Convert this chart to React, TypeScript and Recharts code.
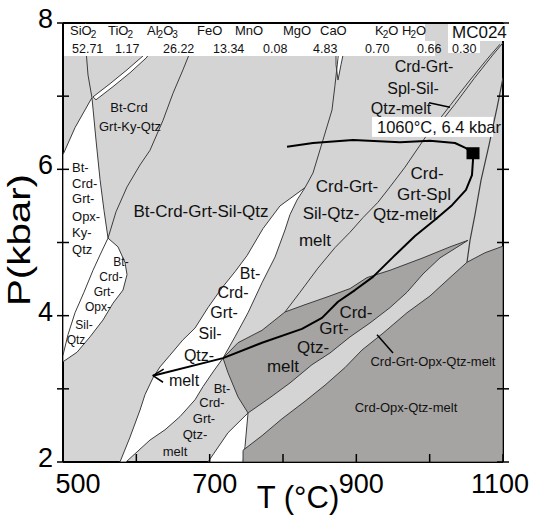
import { ScatterChart, Scatter, XAxis, YAxis, CartesianGrid } from "recharts";

// axis ticks
const T_TICKS = [500, 600, 700, 800, 900, 1000, 1100];
const P_TICKS = [2, 3, 4, 5, 6, 7, 8];
const T_LABELED = [500, 700, 900, 1100];
const P_LABELED = [2, 4, 6, 8];

// composition of sample MC024 (wt%)
const OXIDES = ["SiO2", "TiO2", "Al2O3", "FeO", "MnO", "MgO", "CaO", "K2O", "H2O"];
const OXIDE_VALUES = ["52.71", "1.17", "26.22", "13.34", "0.08", "4.83", "0.70", "0.66", "0.30"];
const SAMPLE = "MC024";

// field outlines, [T (°C), P (kbar)]
const whiteKyOpx = [
  [500, 6.2], [516.4, 6.57], [539.5, 6.98], [545, 6.4], [550.5, 5.86], [555.9, 5.44],
  [561.4, 5.06], [575, 4.94], [584.5, 4.73], [587.3, 4.56], [581.8, 4.35], [568.2, 4.17],
  [554.5, 3.94], [536.8, 3.71], [519.1, 3.5], [500, 3.37],
];
const whiteSliverTop = [
  [540.9, 6.99], [564.1, 7.17], [587.3, 7.36], [609.1, 7.55], [618.6, 7.66],
  [624.1, 7.66], [613.2, 7.52], [591.4, 7.32], [568.2, 7.13], [545, 6.95],
];
const whiteSliverSil = [[872.3, 7.63], [883.2, 7.63], [879.1, 7.43], [875, 7.22], [872.3, 7.43]];
const whiteMeltBand = [
  [830, 5.75], [812.3, 5.62], [795.9, 5.5], [772.7, 5.19], [750.9, 4.82], [734.5, 4.6],
  [716.8, 4.38], [697.7, 4.11], [680, 3.83], [663.6, 3.67], [645.9, 3.46], [632.3, 3.3],
  [622.7, 3.15], [611.8, 2.92], [605, 2.71], [591.4, 2.34], [577.7, 2.0], [585.9, 2.0],
  [618.6, 2.3], [639.1, 2.44], [659.5, 2.62], [680, 2.85], [690.9, 3.03], [704.5, 3.23],
  [718.2, 3.42], [734.5, 3.71], [752.3, 4.04], [771.4, 4.45], [789.1, 4.8], [802.7, 5.17],
  [809.5, 5.38], [819.1, 5.58],
];
const whiteSliverLow = [[752.3, 2.67], [725, 2.4], [697.7, 2.0], [745.5, 2.0], [748.2, 2.21]];
const darkCrdGrtQtz = [
  [718.2, 3.42], [738.6, 3.63], [771.4, 3.8], [802.7, 4.05], [830, 4.15], [861.4, 4.26],
  [891.4, 4.37], [914.5, 4.52], [945.9, 4.62], [990.9, 4.79], [1027.7, 4.94], [1052.3, 5.03],
  [1014.1, 4.79], [990.9, 4.57], [969.1, 4.32], [945.9, 4.11], [918.6, 3.9], [891.4, 3.71],
  [864.1, 3.49], [839.5, 3.33], [809.5, 3.08], [782.3, 2.88], [752.3, 2.67], [738.6, 2.89],
  [725, 3.22],
];
const darkCrdOpxQtz = [
  [745.5, 2.0], [745.5, 2.16], [771.4, 2.36], [798.6, 2.59], [830, 2.83], [857.3, 3.05],
  [884.5, 3.29], [907.7, 3.53], [936.4, 3.76], [969.1, 4.04], [1000.5, 4.27], [1027.7, 4.52],
  [1050.9, 4.73], [1075.5, 4.86], [1100, 4.95], [1100, 2.0],
];

// reaction lines
const lineTopLeft = [[531, 8.0], [531.4, 7.63], [534.1, 7.29], [539.5, 6.98]];
const lineKyOpx = [[561.4, 5.06], [550.5, 4.83], [540.9, 4.62], [528.6, 4.32], [516.4, 4.04], [506.8, 3.74], [500, 3.46]];
const lineKySil = [
  [561.4, 5.06], [572.3, 5.42], [587.3, 5.76], [605, 6.06], [618.6, 6.26], [636.4, 6.67],
  [650, 7.04], [663.6, 7.36], [680, 7.77],
];
const lineSilMelt = [[877.7, 7.9], [875, 7.52], [870.9, 7.15], [866.8, 6.81], [854.5, 6.4], [840.9, 5.95], [830, 5.75]];
const lineSpl = [
  [802.7, 4.05], [823.2, 4.32], [847.7, 4.65], [870.9, 4.93], [891.4, 5.14], [909.1, 5.34],
  [929.5, 5.55], [945.9, 5.76], [966.4, 6.03], [993.6, 6.43], [1027.7, 6.87], [1055, 7.22],
  [1079.5, 7.52], [1095.9, 7.71],
];
const lineSplTwin = [[1000.5, 6.46], [1034.5, 6.89], [1060.5, 7.24], [1085, 7.55], [1100, 7.73]];
const lineRight = [[1100, 7.25], [1091.8, 6.84], [1080.9, 6.33], [1070, 5.85], [1061.8, 5.38], [1055, 5.03], [1050.9, 4.73]];
const pointerSpl = [[999.1, 6.91], [1027.7, 6.85]];
const pointerOpx = [[928.2, 3.74], [950, 3.49]];

// P-T path
const ptPath = [
  [805.5, 6.31], [840.9, 6.36], [895.5, 6.4], [959.5, 6.37], [1000.5, 6.39], [1034.5, 6.36],
  [1049.5, 6.29], [1059.1, 6.22], [1059.1, 6.13], [1057.7, 5.92], [1049.5, 5.72], [1030.5, 5.51],
  [1007.3, 5.31], [980, 5.09], [950, 4.8], [922.7, 4.53], [898.2, 4.35], [875, 4.19],
  [853.2, 3.97], [825.9, 3.82], [771.4, 3.63], [718.2, 3.42], [622.7, 3.18],
];
const arrowHead = [[637.3, 3.27], [622.7, 3.18], [636.4, 3.09]];
const peak = [[1059.1, 6.22]];

// field labels
const labelsBig = [
  { t: 688.2, p: 5.42, text: "Bt-Crd-Grt-Sil-Qtz" },
  { t: 887.3, p: 5.76, text: "Crd-Grt-" },
  { t: 865.5, p: 5.4, text: "Sil-Qtz-" },
  { t: 843.6, p: 5.03, text: "melt" },
  { t: 996.4, p: 5.94, text: "Crd-" },
  { t: 992.3, p: 5.66, text: "Grt-Spl" },
  { t: 966.4, p: 5.38, text: "Qtz-melt" },
  { t: 899.5, p: 4.05, text: "Crd-" },
  { t: 869.5, p: 3.82, text: "Grt-" },
  { t: 840.9, p: 3.56, text: "Qtz-" },
  { t: 800, p: 3.31, text: "melt" },
];
const labelsMid = [
  { t: 992.3, p: 7.4, text: "Crd-Grt-" },
  { t: 977.3, p: 7.11, text: "Spl-Sil-" },
  { t: 960.9, p: 6.83, text: "Qtz-melt" },
  { t: 755, p: 4.58, text: "Bt-" },
  { t: 731.8, p: 4.31, text: "Crd-" },
  { t: 719.5, p: 4.04, text: "Grt-" },
  { t: 700.5, p: 3.76, text: "Sil-" },
  { t: 685.5, p: 3.46, text: "Qtz-" },
  { t: 665, p: 3.12, text: "melt" },
];
const labelsSmall = [
  { t: 590, p: 6.85, text: "Bt-Crd" },
  { t: 591.4, p: 6.59, text: "Grt-Ky-Qtz" },
  { t: 1004.5, p: 3.37, text: "Crd-Grt-Opx-Qtz-melt" },
  { t: 967.7, p: 2.74, text: "Crd-Opx-Qtz-melt" },
  { t: 716.8, p: 3.01, text: "Bt-" },
  { t: 703.2, p: 2.81, text: "Crd-" },
  { t: 692.3, p: 2.6, text: "Grt-" },
  { t: 680, p: 2.37, text: "Qtz-" },
  { t: 652.7, p: 2.14, text: "melt" },
];
const labelsOpxSil = [
  { t: 579.1, p: 4.73, text: "Bt-" },
  { t: 565.5, p: 4.53, text: "Crd-" },
  { t: 555.9, p: 4.32, text: "Grt-" },
  { t: 547.7, p: 4.12, text: "Opx-" },
  { t: 528.6, p: 3.87, text: "Sil-" },
  { t: 517.7, p: 3.67, text: "Qtz" },
];
const labelsOpxKy = [
  { t: 512.3, p: 6.03, text: "Bt-" },
  { t: 512.3, p: 5.81, text: "Crd-" },
  { t: 512.3, p: 5.6, text: "Grt-" },
  { t: 512.3, p: 5.36, text: "Opx-" },
  { t: 512.3, p: 5.13, text: "Ky-" },
  { t: 512.3, p: 4.91, text: "Qtz" },
];
const peakLabel = [{ t: 921.4, p: 6.58, text: "1060°C, 6.4 kbar" }];

const FONT = "'Liberation Sans', Arial, sans-serif";
const LIGHT = "#d4d4d4";
const DARK = "#a5a4a2";
const EDGE = "#3c3c3c";

const pts = (a: number[][]) => a.map(([t, p]) => ({ t, p }));
const toStr = (points: any[]) => (points || []).map((q) => `${q.x},${q.y}`).join(" ");

const polygon = (fill: string) => (props: any) => (
  <polygon points={toStr(props.points)} fill={fill} stroke={EDGE} strokeWidth={1} />
);
const polyline = (stroke: string, width: number) => (props: any) => (
  <polyline points={toStr(props.points)} fill="none" stroke={stroke} strokeWidth={width} strokeLinejoin="round" />
);
const noDot = () => <g />;

const textShape = (size: number, anchor: string = "middle") => (props: any) => (
  <text x={props.cx} y={props.cy} fontSize={size} fontFamily={FONT} fill="#111" textAnchor={anchor} dominantBaseline="central">
    {props.payload.text}
  </text>
);

const peakShape = (props: any) => (
  <g>
    <rect x={props.cx} y={props.cy - 10} width={121} height={20} fill="#fff" />
    <text x={props.cx + 5} y={props.cy + 6} fontSize={16.5} fontFamily={FONT} fill="#111">
      {props.payload.text}
    </text>
  </g>
);

const squareShape = (props: any) => (
  <rect x={props.cx - 6.5} y={props.cy - 6} width={13} height={12} fill="#000" />
);

const T_DX: Record<number, number> = { 500: 15, 700: 5, 900: 5, 1100: -3 };

const BottomTick = (props: any) => {
  const { x, y, payload } = props;
  const v = payload.value;
  return (
    <g>
      <line x1={x} y1={y} x2={x} y2={y - 8} stroke="#000" strokeWidth={1.5} />
      {T_LABELED.includes(v) && (
        <text x={x + (T_DX[v] || 0)} y={y + 31} textAnchor="middle" fontSize={27} fontFamily={FONT} fill="#000">
          {v}
        </text>
      )}
    </g>
  );
};

const TopTick = (props: any) => (
  <line x1={props.x} y1={props.y} x2={props.x} y2={props.y + 8} stroke="#000" strokeWidth={1.5} />
);

const LeftTick = (props: any) => {
  const { x, y, payload } = props;
  const v = payload.value;
  return (
    <g>
      <line x1={x - 6} y1={y} x2={x + 6} y2={y} stroke="#000" strokeWidth={1.5} />
      {P_LABELED.includes(v) && (
        <text x={x - 10} y={y + 5} textAnchor="end" fontSize={27} fontFamily={FONT} fill="#000">
          {v}
        </text>
      )}
    </g>
  );
};

const RightTick = (props: any) => (
  <line x1={props.x - 6} y1={props.y} x2={props.x + 6} y2={props.y} stroke="#000" strokeWidth={1.5} />
);

const HEAD_X = [70, 108, 147, 197, 235, 283, 320, 375, 402];
const VAL_X = [72, 115, 163, 213, 263, 313, 365, 417, 452];

// oxide formula with the subscripts set low
function Oxide({ name, x }: { name: string; x: number }) {
  const parts = name.match(/[A-Za-z]+|\d/g) || [];
  return (
    <text x={x} y={35} fontSize={13} fontFamily={FONT} fill="#111">
      {parts.map((s, i) =>
        /\d/.test(s) ? (
          <tspan key={i} fontSize={10} dy={3} dx={-1}>
            {s}
          </tspan>
        ) : (
          <tspan key={i} dy={i > 0 ? -3 : 0}>
            {s}
          </tspan>
        )
      )}
    </text>
  );
}

const axisStroke = { stroke: "#000", strokeWidth: 2 };

export default function App() {
  return (
    <div style={{ position: "absolute", left: 0, top: 0, width: 535, height: 515, background: "#fff" }}>
      <ScatterChart width={535} height={515} margin={{ top: 3, right: 12, bottom: 0, left: 0 }}>
        <CartesianGrid fill={LIGHT} stroke="none" horizontal={false} vertical={false} />
        <XAxis
          dataKey="t"
          type="number"
          domain={[500, 1100]}
          ticks={T_TICKS}
          interval={0}
          height={53}
          allowDataOverflow
          tickSize={0}
          tickMargin={0}
          tickLine={false}
          axisLine={axisStroke}
          tick={<BottomTick />}
        />
        <XAxis
          xAxisId="top"
          orientation="top"
          type="number"
          domain={[500, 1100]}
          ticks={T_TICKS}
          interval={0}
          height={20}
          allowDataOverflow
          tickSize={0}
          tickMargin={0}
          tickLine={false}
          axisLine={axisStroke}
          tick={<TopTick />}
        />
        <YAxis
          dataKey="p"
          type="number"
          domain={[2, 8]}
          ticks={P_TICKS}
          interval={0}
          width={63}
          allowDataOverflow
          tickSize={0}
          tickMargin={0}
          tickLine={false}
          axisLine={axisStroke}
          tick={<LeftTick />}
        />
        <YAxis
          yAxisId="right"
          orientation="right"
          type="number"
          domain={[2, 8]}
          ticks={P_TICKS}
          interval={0}
          width={20}
          allowDataOverflow
          tickSize={0}
          tickMargin={0}
          tickLine={false}
          axisLine={axisStroke}
          tick={<RightTick />}
        />

        {/* white and dark fields over the light grey background */}
        <Scatter data={pts(whiteKyOpx)} line={polygon("#fff")} shape={noDot} isAnimationActive={false} />
        <Scatter data={pts(whiteSliverTop)} line={polygon("#fff")} shape={noDot} isAnimationActive={false} />
        <Scatter data={pts(whiteSliverSil)} line={polygon("#fff")} shape={noDot} isAnimationActive={false} />
        <Scatter data={pts(whiteMeltBand)} line={polygon("#fff")} shape={noDot} isAnimationActive={false} />
        <Scatter data={pts(whiteSliverLow)} line={polygon("#fff")} shape={noDot} isAnimationActive={false} />
        <Scatter data={pts(darkCrdGrtQtz)} line={polygon(DARK)} shape={noDot} isAnimationActive={false} />
        <Scatter data={pts(darkCrdOpxQtz)} line={polygon(DARK)} shape={noDot} isAnimationActive={false} />

        {/* field boundaries */}
        <Scatter data={pts(lineTopLeft)} line={polyline(EDGE, 1)} shape={noDot} isAnimationActive={false} />
        <Scatter data={pts(lineKyOpx)} line={polyline(EDGE, 1)} shape={noDot} isAnimationActive={false} />
        <Scatter data={pts(lineKySil)} line={polyline(EDGE, 1)} shape={noDot} isAnimationActive={false} />
        <Scatter data={pts(lineSilMelt)} line={polyline(EDGE, 1)} shape={noDot} isAnimationActive={false} />
        <Scatter data={pts(lineSpl)} line={polyline(EDGE, 1)} shape={noDot} isAnimationActive={false} />
        <Scatter data={pts(lineSplTwin)} line={polyline(EDGE, 1)} shape={noDot} isAnimationActive={false} />
        <Scatter data={pts(lineRight)} line={polyline(EDGE, 1.2)} shape={noDot} isAnimationActive={false} />
        <Scatter data={pts(pointerSpl)} line={polyline("#000", 1.5)} shape={noDot} isAnimationActive={false} />
        <Scatter data={pts(pointerOpx)} line={polyline("#000", 1.5)} shape={noDot} isAnimationActive={false} />

        {/* P-T path */}
        <Scatter data={pts(ptPath)} line={polyline("#000", 2)} shape={noDot} isAnimationActive={false} />
        <Scatter data={pts(arrowHead)} line={polyline("#000", 1.5)} shape={noDot} isAnimationActive={false} />
        <Scatter data={pts(peak)} shape={squareShape} isAnimationActive={false} />

        {/* labels */}
        <Scatter data={labelsBig} shape={textShape(17)} isAnimationActive={false} />
        <Scatter data={labelsMid} shape={textShape(16)} isAnimationActive={false} />
        <Scatter data={labelsSmall} shape={textShape(13)} isAnimationActive={false} />
        <Scatter data={labelsOpxSil} shape={textShape(12)} isAnimationActive={false} />
        <Scatter data={labelsOpxKy} shape={textShape(13, "start")} isAnimationActive={false} />
        <Scatter data={peakLabel} shape={peakShape} isAnimationActive={false} />
      </ScatterChart>

      <svg width={535} height={515} style={{ position: "absolute", left: 0, top: 0, pointerEvents: "none" }}>
        {/* composition table */}
        <rect x={64} y={24} width={361} height={17} fill="#fff" />
        <rect x={64} y={41} width={371} height={15} fill="#fff" />
        <rect x={448} y={24} width={66} height={17} fill="#fff" />
        <rect x={448} y={41} width={32} height={12} fill="#fff" />
        {OXIDES.map((o, i) => (
          <Oxide key={o} name={o} x={HEAD_X[i]} />
        ))}
        {OXIDE_VALUES.map((v, i) => (
          <text key={i} x={VAL_X[i]} y={53} fontSize={12.5} fontFamily={FONT} fill="#111">
            {v}
          </text>
        ))}
        <text x={452} y={38} fontSize={17} fontFamily={FONT} fill="#111">
          {SAMPLE}
        </text>

        {/* axis titles */}
        <text x={298} y={508} textAnchor="middle" fontSize={31} fontFamily={FONT} fill="#000">
          T (°C)
        </text>
        <text
          x={0}
          y={0}
          transform="translate(30,240) rotate(-90)"
          textAnchor="middle"
          fontSize={31}
          textLength={132}
          lengthAdjust="spacingAndGlyphs"
          fontFamily={FONT}
          fill="#000"
        >
          P(kbar)
        </text>
      </svg>
    </div>
  );
}
